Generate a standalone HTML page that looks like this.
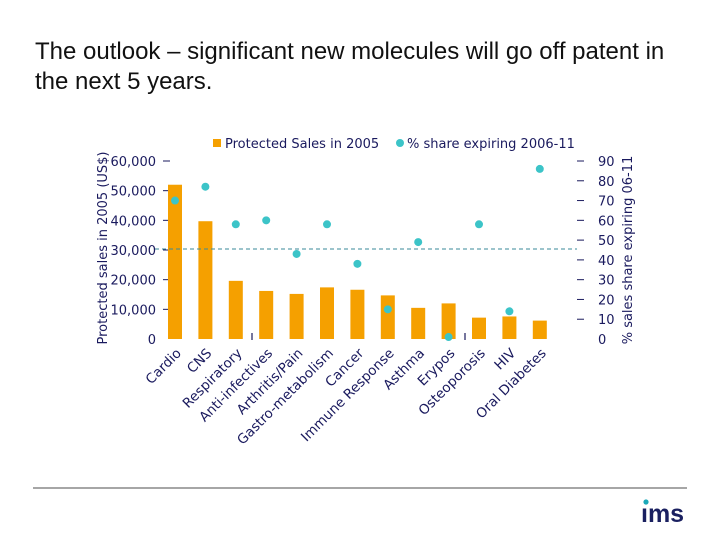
<!DOCTYPE html>
<html><head><meta charset="utf-8">
<style>
body{margin:0;background:#fff;width:720px;height:540px;overflow:hidden;position:relative;font-family:"Liberation Sans",sans-serif;}
.title{position:absolute;left:35px;top:37px;font-size:24px;line-height:30px;color:#111;white-space:nowrap;}
svg{position:absolute;left:0;top:0;}
</style></head><body>
<div class="title">The outlook – significant new molecules will go off patent in<br>the next 5 years.</div>
<svg width="720" height="540" id="chart" font-family="DejaVu Sans, sans-serif">
<line x1="33" y1="488" x2="687" y2="488" stroke="#888" stroke-width="1.5"/>
<g>
<text x="641" y="522" font-family="Liberation Sans, sans-serif" font-weight="bold" font-size="25" fill="#1a2060">ıms</text>
<circle cx="646" cy="502" r="2.6" fill="#1aa8b8"/>
</g>
</svg>
<script>
const categories=["Cardio","CNS","Respiratory","Anti-infectives","Arthritis/Pain","Gastro-metabolism","Cancer","Immune Response","Asthma","Erypos","Osteoporosis","HIV","Oral Diabetes"];
const sales=[52000,39700,19600,16200,15200,17400,16600,14700,10500,12000,7200,7600,6200];
const share=[70,77,58,60,43,58,38,15,49,1,58,14,86];
const leftTicks=["0","10,000","20,000","30,000","40,000","50,000","60,000"];
const rightTicks=["0","10","20","30","40","50","60","70","80","90"];
const refShare=45.5;

const svg=document.getElementById('chart');
const NS='http://www.w3.org/2000/svg';
const y0=339,y1=161;
const yL=v=>y0-(v/60000)*(y0-y1);
const yR=v=>y0-(v/90)*(y0-y1);
const xC=i=>175+i*30.4;
const navy='#1a1a5e';
function mk(t,a){const e=document.createElementNS(NS,t);for(const k in a)e.setAttribute(k,a[k]);svg.appendChild(e);return e;}

leftTicks.forEach((t,i)=>{
 const y=yL(i*10000);
 if(i>0){const l=mk('line',{x1:163,x2:170,y1:y,y2:y,stroke:navy,'stroke-width':1});
 }
 const e=mk('text',{x:156,y:y+5,'text-anchor':'end','font-size':13,fill:navy});e.textContent=t;
 
 
});
rightTicks.forEach((t,i)=>{
 const y=yR(i*10);
 if(i>0){const l=mk('line',{x1:577,x2:584,y1:y,y2:y,stroke:navy,'stroke-width':1});
 }
 const e=mk('text',{x:598,y:y+5,'font-size':13,fill:navy});e.textContent=t;
 
 
});
[252,465].forEach(x=>{const l=mk('line',{x1:x,x2:x,y1:333,y2:340,stroke:navy,'stroke-width':1.2});
 });

let e=mk('text',{transform:'translate(107,248) rotate(-90)','text-anchor':'middle','font-size':13,fill:navy});
e.textContent='Protected sales in 2005 (US$)';


e=mk('text',{transform:'translate(632,250) rotate(-90)','text-anchor':'middle','font-size':13,fill:navy});
e.textContent='% sales share expiring 06-11';



sales.forEach((v,i)=>{
 const b=mk('rect',{x:xC(i)-7,y:yL(v),width:14,height:y0-yL(v),fill:'#f5a000'});
 
 
});
const rl=mk('line',{x1:155,x2:577,y1:yR(refShare),y2:yR(refShare),stroke:'#3a8a9a','stroke-width':1,'stroke-dasharray':'4,3'});


share.forEach((v,i)=>{
 const c=mk('circle',{cx:xC(i),cy:yR(v),r:4,fill:'#3cc4c8'});
 
 
});
categories.forEach((c,i)=>{
 const x=xC(i)+7,y=354;
 const t=mk('text',{transform:`translate(${x},${y}) rotate(-45)`,'text-anchor':'end','font-size':13.5,fill:navy});
 t.textContent=c;
 
 
});
// legend
let r=mk('rect',{x:213,y:139,width:8,height:8,fill:'#f5a000'});

e=mk('text',{x:225,y:148,'font-size':13,fill:navy});e.textContent='Protected Sales in 2005';

r=mk('circle',{cx:400,cy:143,r:4,fill:'#3cc4c8'});

e=mk('text',{x:407,y:148,'font-size':13,fill:navy});e.textContent='% share expiring 2006-11';

</script>
</body></html>
